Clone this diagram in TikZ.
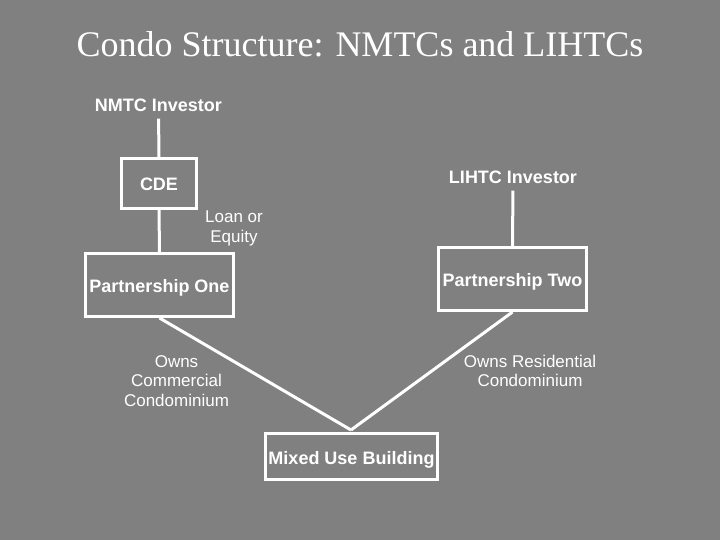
\documentclass[tikz,border=0pt]{standalone}
\usepackage{fontspec}
\setmainfont{Liberation Serif}
\newfontfamily\arial{Liberation Sans}
\begin{document}
\begin{tikzpicture}[x=1pt,y=-1pt,
  box/.style={draw=white,line width=3pt,fill=bggray,inner sep=0pt,text=white,text height=17pt,text depth=2pt,font=\arial\bfseries\fontsize{18}{21}\selectfont},
  hdr/.style={text=white,inner sep=1pt,font=\arial\bfseries\fontsize{18}{21}\selectfont},
  lbl/.style={text=white,inner sep=0pt,align=center,font=\arial\fontsize{17}{19.5}\selectfont},
  conn/.style={draw=white,line width=3pt}]
\definecolor{bggray}{HTML}{808080}
\fill[bggray] (0,0) rectangle (720,540);
\useasboundingbox (0,0) rectangle (720,540);
\node[text=white,font=\fontsize{36}{40}\selectfont] (title) at (360,44) {Condo Structure: NMTCs and LIHTCs};
\node[hdr] (nmtc) at (158.5,105) {NMTC Investor};
\node[box,minimum width=75,minimum height=50] (cde) at (159,183.5) {CDE};
\node[box,minimum width=148,minimum height=63] (p1) at (159.5,285) {Partnership One};
\node[hdr] (lihtc) at (513,177) {LIHTC Investor};
\node[box,minimum width=148,minimum height=63] (p2) at (512.5,279) {Partnership Two};
\node[box,minimum width=172,minimum height=46] (mixed) at (351.5,456.5) {Mixed Use Building};
\coordinate (apex) at (351,430);
\node[lbl] (loan) at (234,228.5) {Loan or\\Equity};
\node[lbl] (owns1) at (176.5,381) {Owns\\Commercial\\Condominium};
\node[lbl] (owns2) at (530,371) {Owns Residential\\Condominium};
\draw[conn,shorten <=6pt] (nmtc.south) -- (cde.north);
\draw[conn] (cde.south) -- (p1.north);
\draw[conn,shorten <=6pt] (lihtc.south) -- (p2.north);
\draw[conn] (p1.south) -- (apex);
\draw[conn] (p2.south) -- (apex);
\end{tikzpicture}
\end{document}
